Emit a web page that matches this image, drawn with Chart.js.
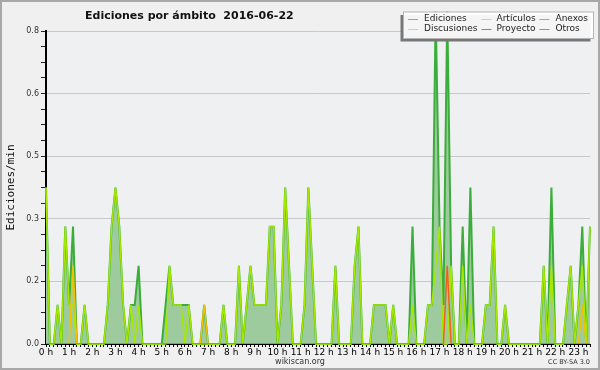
<!DOCTYPE html>
<html>
<head>
<meta charset="utf-8">
<script src="https://cdn.jsdelivr.net/npm/chart.js@4.4.1/dist/chart.umd.min.js"></script>
<style>
  html, body { margin: 0; padding: 0; background: #f0f0f0; }
  canvas { display: block; }
</style>
</head>
<body>
<canvas id="ambitoChart" width="600" height="370"></canvas>
<script>
// 10-minute slots, 00:00 .. 23:30
var slots = Array.from({ length: 142 }, function (_, i) {
  return Math.floor(i / 6) + ":" + String((i % 6) * 10).padStart(2, "0");
});
var hourLabels = ["0 h", "1 h", "2 h", "3 h", "4 h", "5 h", "6 h", "7 h", "8 h", "9 h", "10 h", "11 h",
  "12 h", "13 h", "14 h", "15 h", "16 h", "17 h", "18 h", "19 h", "20 h", "21 h", "22 h", "23 h"];

var ediciones = [
  0.4, 0, 0, 0.1, 0, 0.3, 0.1, 0.3, 0, 0,
  0.1, 0, 0, 0, 0, 0, 0.1, 0.3, 0.4, 0.3,
  0.1, 0, 0.1, 0.1, 0.2, 0, 0, 0, 0, 0,
  0, 0.1, 0.2, 0.1, 0.1, 0.1, 0.1, 0.1, 0, 0,
  0, 0.1, 0, 0, 0, 0, 0.1, 0, 0, 0,
  0.2, 0, 0.1, 0.2, 0.1, 0.1, 0.1, 0.1, 0.3, 0.3,
  0, 0.1, 0.4, 0.2, 0, 0, 0, 0.1, 0.4, 0.2,
  0, 0, 0, 0, 0, 0.2, 0, 0, 0, 0,
  0.2, 0.3, 0, 0, 0, 0.1, 0.1, 0.1, 0.1, 0,
  0.1, 0, 0, 0, 0, 0.3, 0, 0, 0, 0.1,
  0.1, 0.85, 0.3, 0.1, 0.85, 0.2, 0, 0, 0.3, 0,
  0.4, 0, 0, 0, 0.1, 0.1, 0.3, 0, 0, 0.1,
  0, 0, 0, 0, 0, 0, 0, 0, 0, 0.2,
  0, 0.4, 0, 0, 0, 0.1, 0.2, 0, 0.1, 0.3,
  0, 0.3
];
var articulos = [
  0.4, 0, 0, 0.1, 0, 0.3, 0.1, 0.1, 0, 0,
  0.1, 0, 0, 0, 0, 0, 0.1, 0.3, 0.4, 0.3,
  0.1, 0, 0.1, 0, 0.1, 0, 0, 0, 0, 0,
  0, 0, 0.2, 0.1, 0.1, 0.1, 0, 0.1, 0, 0,
  0, 0, 0, 0, 0, 0, 0.1, 0, 0, 0,
  0.2, 0, 0.1, 0.2, 0.1, 0.1, 0.1, 0.1, 0.3, 0.3,
  0, 0.1, 0.4, 0.2, 0, 0, 0, 0.1, 0.4, 0.2,
  0, 0, 0, 0, 0, 0.2, 0, 0, 0, 0,
  0.2, 0.3, 0, 0, 0, 0.1, 0.1, 0.1, 0.1, 0,
  0.1, 0, 0, 0, 0, 0.1, 0, 0, 0, 0.1,
  0.1, 0.2, 0.3, 0, 0, 0.2, 0, 0, 0.2, 0,
  0.1, 0, 0, 0, 0.1, 0.1, 0.3, 0, 0, 0.1,
  0, 0, 0, 0, 0, 0, 0, 0, 0, 0.2,
  0, 0.2, 0, 0, 0, 0.1, 0.2, 0, 0.1, 0.2,
  0, 0.3
];
var discusiones = [
  0, 0, 0, 0, 0, 0, 0, 0.2, 0, 0,
  0, 0, 0, 0, 0, 0, 0, 0, 0, 0,
  0, 0, 0, 0, 0, 0, 0, 0, 0, 0,
  0, 0, 0, 0, 0, 0, 0, 0, 0, 0,
  0, 0.1, 0, 0, 0, 0, 0, 0, 0, 0,
  0, 0, 0, 0, 0, 0, 0, 0, 0, 0,
  0, 0, 0, 0, 0, 0, 0, 0, 0, 0,
  0, 0, 0, 0, 0, 0, 0, 0, 0, 0,
  0, 0, 0, 0, 0, 0, 0, 0, 0, 0,
  0, 0, 0, 0, 0, 0, 0, 0, 0, 0,
  0, 0, 0, 0, 0, 0, 0, 0, 0, 0,
  0, 0, 0, 0, 0, 0, 0, 0, 0, 0,
  0, 0, 0, 0, 0, 0, 0, 0, 0, 0,
  0, 0, 0, 0, 0, 0, 0, 0, 0, 0.1,
  0, 0
];
var anexos = [
  0, 0, 0, 0, 0, 0, 0, 0, 0, 0,
  0, 0, 0, 0, 0, 0, 0, 0, 0, 0,
  0, 0, 0, 0, 0, 0, 0, 0, 0, 0,
  0, 0, 0, 0, 0, 0, 0, 0, 0, 0,
  0, 0, 0, 0, 0, 0, 0, 0, 0, 0,
  0, 0, 0, 0, 0, 0, 0, 0, 0, 0,
  0, 0, 0, 0, 0, 0, 0, 0, 0, 0,
  0, 0, 0, 0, 0, 0, 0, 0, 0, 0,
  0, 0, 0, 0, 0, 0, 0, 0, 0, 0,
  0, 0, 0, 0, 0, 0, 0, 0, 0, 0,
  0, 0, 0, 0, 0.2, 0, 0, 0, 0, 0,
  0, 0, 0, 0, 0, 0, 0, 0, 0, 0,
  0, 0, 0, 0, 0, 0, 0, 0, 0, 0,
  0, 0, 0, 0, 0, 0, 0, 0, 0, 0,
  0, 0
];

var colors = {
  ediciones: "#3aad3a",
  edicionesFill: "#9ecb9e",
  articulos: "#a6e800",
  discusiones: "#f2c200",
  anexos: "#f0601e",
  proyecto: "#555555",
  otros: "#9933ee"
};

// legend rows as drawn in the picture
var legendItems = [
  ["Ediciones", colors.ediciones, 0, 0],
  ["Artículos", colors.articulos, 1, 0],
  ["Anexos", colors.anexos, 2, 0],
  ["Discusiones", colors.discusiones, 0, 1],
  ["Proyecto", colors.proyecto, 1, 1],
  ["Otros", colors.otros, 2, 1]
];

var decor = {
  id: "decor",
  beforeDraw: function (chart) {
    var c = chart.ctx;
    c.save();
    c.fillStyle = "#f0f0f0";
    c.fillRect(0, 0, chart.width, chart.height);
    var a = chart.chartArea;
    c.fillStyle = "#eff0f2";
    c.fillRect(a.left, a.top, a.right - a.left, a.bottom - a.top);
    c.restore();
  },
  afterDraw: function (chart) {
    var c = chart.ctx;
    var a = chart.chartArea;
    c.save();

    // title
    c.fillStyle = "#111";
    c.font = "bold 11px 'DejaVu Sans'";
    c.textAlign = "left";
    c.textBaseline = "alphabetic";
    c.fillText("Ediciones por ámbito  2016-06-22", 85, 18.5);

    // y title
    c.save();
    c.translate(11, (a.top + a.bottom) / 2);
    c.rotate(-Math.PI / 2);
    c.font = "11px 'DejaVu Sans Mono'";
    c.textAlign = "center";
    c.textBaseline = "middle";
    c.fillStyle = "#111";
    c.fillText("Ediciones/min", 0, 0);
    c.restore();

    // legend box with shadow
    c.fillStyle = "#777";
    c.fillRect(400.5, 15, 190, 26.5);
    c.fillStyle = "rgba(255,255,255,0.93)";
    c.fillRect(403.5, 12, 190, 26.5);
    c.strokeStyle = "#b4b4b4";
    c.lineWidth = 1;
    c.strokeRect(403.5, 12, 190, 26.5);

    var lineX = [408, 481.5, 539.5];
    var textX = [424, 496.5, 555.5];
    var rowY = [19, 29];
    c.font = "9px 'DejaVu Sans'";
    c.textBaseline = "middle";
    legendItems.forEach(function (it) {
      var y = rowY[it[3]];
      c.strokeStyle = it[1];
      c.globalAlpha = 0.7;
      c.beginPath();
      c.moveTo(lineX[it[2]], y + 0.5);
      c.lineTo(lineX[it[2]] + 10, y + 0.5);
      c.stroke();
      c.globalAlpha = 1;
      c.fillStyle = "#222";
      c.fillText(it[0], textX[it[2]], y);
    });

    // footer
    c.textBaseline = "alphabetic";
    c.fillStyle = "#333";
    c.font = "8px 'DejaVu Sans'";
    c.textAlign = "center";
    c.fillText("wikiscan.org", 300, 364);
    c.font = "6.5px 'DejaVu Sans'";
    c.textAlign = "right";
    c.fillText("CC BY-SA 3.0", 590, 364);

    // frame
    c.strokeStyle = "#a8a8a8";
    c.lineWidth = 2;
    c.strokeRect(1, 1, chart.width - 2, chart.height - 2);
    c.restore();
  }
};

var ctx = document.getElementById("ambitoChart").getContext("2d");

new Chart(ctx, {
  type: "line",
  data: {
    labels: slots,
    datasets: [
      {
        label: "Ediciones",
        data: ediciones,
        borderColor: colors.ediciones,
        backgroundColor: colors.edicionesFill,
        borderWidth: 2,
        fill: "origin",
        clip: false,
        order: 4
      },
      {
        label: "Artículos",
        data: articulos,
        borderColor: colors.articulos,
        borderWidth: 1.5,
        fill: false,
        clip: false,
        order: 3
      },
      {
        label: "Discusiones",
        data: discusiones,
        borderColor: colors.discusiones,
        borderWidth: 1.5,
        fill: false,
        order: 2
      },
      {
        label: "Anexos",
        data: anexos,
        borderColor: colors.anexos,
        borderWidth: 1.5,
        fill: false,
        order: 1
      }
    ]
  },
  options: {
    responsive: false,
    animation: false,
    layout: { padding: { top: 31, right: 10, left: 0, bottom: 0 } },
    elements: {
      point: { radius: 0 },
      line: { tension: 0 }
    },
    plugins: {
      legend: { display: false },
      title: { display: false },
      tooltip: { enabled: false },
      filler: { propagate: false }
    },
    scales: {
      x: {
        type: "category",
        offset: false,
        grid: {
          drawOnChartArea: false,
          tickColor: "#000",
          tickLength: 3
        },
        border: { color: "#000", width: 1 },
        ticks: {
          autoSkip: false,
          maxRotation: 0,
          minRotation: 0,
          padding: 0,
          color: "#000",
          font: { family: "'DejaVu Sans'", size: 9 },
          callback: function (val, i) {
            return i % 6 === 0 ? hourLabels[i / 6] : "";
          }
        },
        afterFit: function (scale) {
          scale.height = 26;
        }
      },
      y: {
        min: 0,
        max: 0.8,
        grid: {
          color: function (c) {
            return c.index % 4 === 0 ? "#c8c8c8" : "rgba(0,0,0,0)";
          },
          tickColor: "#222",
          tickLength: 5
        },
        border: { color: "#000", width: 2 },
        ticks: {
          stepSize: 0.04,
          maxTicksLimit: 30,
          padding: 2,
          color: "#333",
          font: { family: "'DejaVu Sans'", size: 8 },
          callback: function (val, i) {
            return i % 4 === 0 ? val.toFixed(1) : "";
          }
        },
        afterFit: function (scale) {
          scale.width = 46;
        }
      }
    }
  },
  plugins: [decor]
});
</script>
</body>
</html>
